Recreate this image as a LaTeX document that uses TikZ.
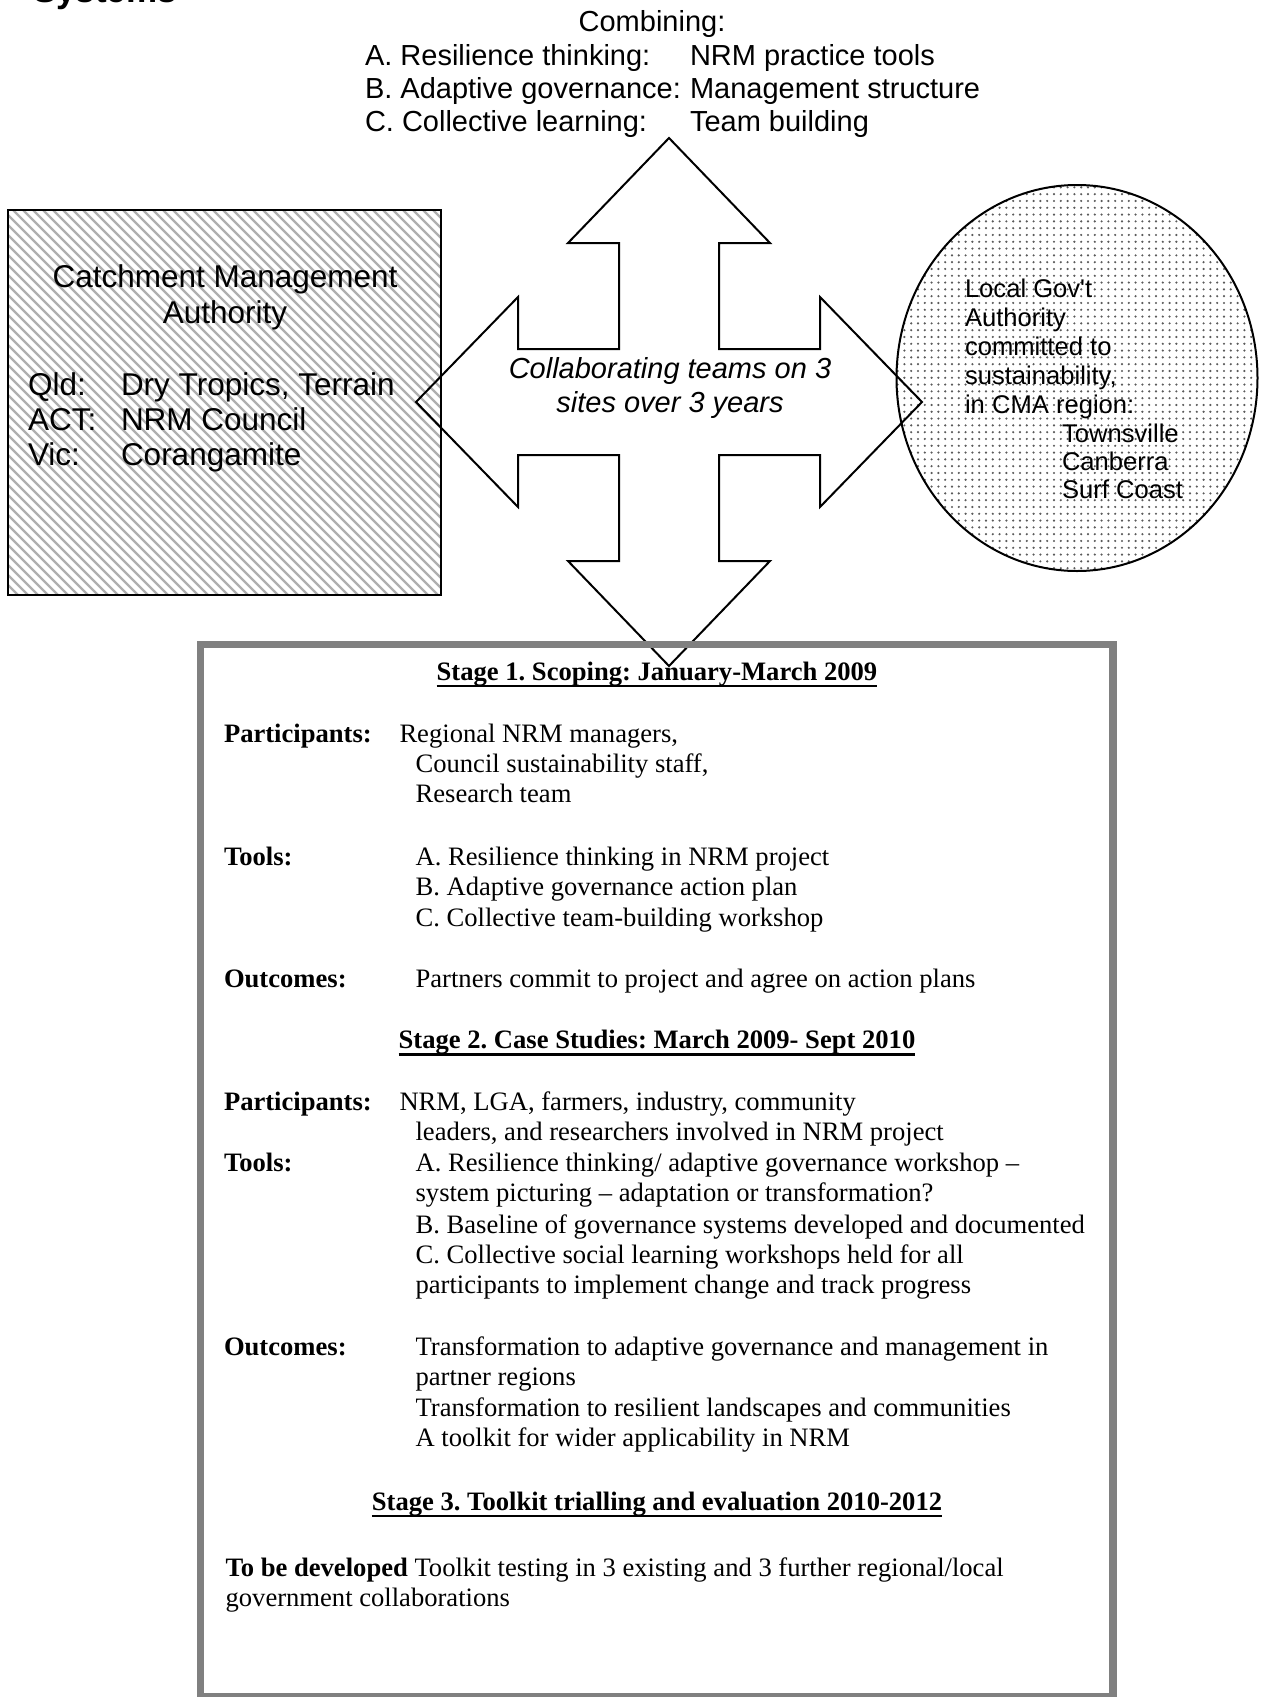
\documentclass[tikz,border=0pt]{standalone}
\usepackage{fontspec}
\setmainfont{Liberation Serif}
\newfontfamily\arialfont{Liberation Sans}
\usetikzlibrary{patterns.meta}
\frenchspacing

\definecolor{framegray}{RGB}{128,128,128}
\definecolor{hatchgray}{RGB}{175,175,175}
\definecolor{dotgray}{RGB}{90,90,90}

\begin{document}
\begin{tikzpicture}[
		x=0.5pt, y=-0.5pt,
		every node/.style={inner sep=0pt, outer sep=0pt},
		sans/.style={font=\arialfont\fontsize{14.5pt}{17pt}\selectfont},
		syshead/.style={font=\arialfont\bfseries\fontsize{17.5pt}{20pt}\selectfont},
		cma/.style={font=\arialfont\fontsize{15.75pt}{18pt}\selectfont},
		lga/.style={font=\arialfont\fontsize{12.8pt}{14.5pt}\selectfont, anchor=base west},
		collab/.style={font=\arialfont\itshape\fontsize{14.5pt}{17pt}\selectfont, anchor=base},
		body/.style={font=\fontsize{13.3pt}{15.2pt}\selectfont, anchor=base west},
		tag/.style={font=\bfseries\fontsize{13.3pt}{15.2pt}\selectfont, anchor=base west},
		stagehead/.style={font=\bfseries\fontsize{13.3pt}{15.2pt}\selectfont, anchor=base},
		uline/.style={line width=1.3pt},
		hatch/.style={hatchgray, line width=1.1pt},
		outline/.style={draw=black, line width=1pt},
		bigarrow/.style={draw=black, line width=1pt, line join=miter},
		stageframe/.style={draw=framegray, line width=3.75pt}
		]
		
		\useasboundingbox (0,0) rectangle (1264,1697);
		\clip (0,0) rectangle (1264,1697);
		
		% Page heading (cut off at the top)
		\node[syshead, anchor=base west] (sys) at (33,3) {Systems};
		
		% -------- Combining --------
		\node[sans, anchor=base] (comb) at (652,32) {Combining:};
		\node[sans, anchor=base west] (ca) at (365,65) {A. Resilience thinking:};
		\node[sans, anchor=base west] (cb) at (365,98.5) {B. Adaptive governance:};
		\node[sans, anchor=base west] (cc) at (365,131.5) {C. Collective learning:};
		\node[sans, anchor=base west] (ca2) at (690,65) {NRM practice tools};
		\node[sans, anchor=base west] (cb2) at (690,98.5) {Management structure};
		\node[sans, anchor=base west] (cc2) at (690,131.5) {Team building};
		
		% -------- Catchment Management Authority --------
		\begin{scope}
			\clip (8,210) rectangle (441,595);
			\foreach \k in {-400,-390,...,440}
				\draw[hatch] (8+\k,205) -- ++(400,400);
		\end{scope}
		\draw[outline] (8,210) rectangle (441,595);
		
		\node[cma, anchor=base] (cma1) at (225,287) {Catchment Management};
		\node[cma, anchor=base] (cma2) at (225,323) {Authority};
		\node[cma, anchor=base west] (qld) at (28,395) {Qld:};
		\node[cma, anchor=base west] (act) at (28,430.5) {ACT:};
		\node[cma, anchor=base west] (vic) at (28,465.5) {Vic:};
		\node[cma, anchor=base west] (qld2) at (121,395) {Dry Tropics, Terrain};
		\node[cma, anchor=base west] (act2) at (121,430.5) {NRM Council};
		\node[cma, anchor=base west] (vic2) at (121,465.5) {Corangamite};
		
		% -------- Local government --------
		\fill[white] (1077,378) ellipse [x radius=180.5, y radius=193];
		\fill[pattern={Dots[distance=3.4pt, radius=0.6pt]}, pattern color=dotgray]
			(1077,378) ellipse [x radius=180.5, y radius=193];
		\draw[outline] (1077,378) ellipse [x radius=180.5, y radius=193];
		
		\node[lga] (lg1) at (965,297) {Local Gov't};
		\node[lga] (lg2) at (965,326) {Authority};
		\node[lga] (lg3) at (965,355) {committed to};
		\node[lga] (lg4) at (965,384) {sustainability,};
		\node[lga] (lg5) at (965,413) {in CMA region:};
		\node[lga] (lg6) at (1062,442) {Townsville};
		\node[lga] (lg7) at (1062,470) {Canberra};
		\node[lga] (lg8) at (1062,498) {Surf Coast};
		
		% -------- Four-way arrow --------
		\draw[bigarrow] (669,138) -- (770,243) -- (719,243) -- (719,349)
			-- (820,349) -- (820,297) -- (922,402) -- (820,507) -- (820,455)
			-- (719,455) -- (719,561) -- (770,561) -- (669,666) -- (568,561)
			-- (619,561) -- (619,455) -- (518,455) -- (518,507) -- (416,402)
			-- (518,297) -- (518,349) -- (619,349) -- (619,243) -- (568,243) -- cycle;
		
		\node[collab] (tm1) at (670,378) {Collaborating teams on 3};
		\node[collab] (tm2) at (670,412) {sites over 3 years};
		
		% -------- Stages frame --------
		\draw[stageframe] (200.5,644.5) rectangle (1113,1697);
		
		% ---- Stage 1 ----
		\node[stagehead] (st1) at (657,680) {Stage 1. Scoping: January-March 2009};
		\draw[uline] ([yshift=-3pt]st1.base west) -- ([yshift=-3pt]st1.base east);
		
		\node[tag] (p1) at (224,742) {Participants:};
		\node[body] (p1a) at (399.5,742) {Regional NRM managers,};
		\node[body] (p1b) at (415.6,772.7) {Council sustainability staff,};
		\node[body] (p1c) at (415.6,802.7) {Research team};
		
		\node[tag] (t1) at (224,865) {Tools:};
		\node[body] (t1a) at (415.6,865) {A. Resilience thinking in NRM project};
		\node[body] (t1b) at (415.6,895.5) {B. Adaptive governance action plan};
		\node[body] (t1c) at (415.6,926.5) {C. Collective team-building workshop};
		
		\node[tag] (o1) at (224,987.3) {Outcomes:};
		\node[body] (o1a) at (415.6,987.3) {Partners commit to project and agree on action plans};
		
		% ---- Stage 2 ----
		\node[stagehead] (st2) at (657,1048.3) {Stage 2. Case Studies: March 2009- Sept 2010};
		\draw[uline] ([yshift=-3pt]st2.base west) -- ([yshift=-3pt]st2.base east);
		
		\node[tag] (p2) at (224,1110) {Participants:};
		\node[body] (p2a) at (399.5,1110) {NRM, LGA, farmers, industry, community};
		\node[body] (p2b) at (415.6,1140.7) {leaders, and researchers involved in NRM project};
		
		\node[tag] (t2) at (224,1171.7) {Tools:};
		\node[body] (t2a) at (415.6,1171.7) {A. Resilience thinking/ adaptive governance workshop --};
		\node[body] (t2b) at (415.6,1201.7) {system picturing -- adaptation or transformation?};
		\node[body] (t2c) at (415.6,1233.3) {B. Baseline of governance systems developed and documented};
		\node[body] (t2d) at (415.6,1263.3) {C. Collective social learning workshops held for all};
		\node[body] (t2e) at (415.6,1293.3) {participants to implement change and track progress};
		
		\node[tag] (o2) at (224,1355) {Outcomes:};
		\node[body] (o2a) at (415.6,1355) {Transformation to adaptive governance and management in};
		\node[body] (o2b) at (415.6,1385) {partner regions};
		\node[body] (o2c) at (415.6,1416.7) {Transformation to resilient landscapes and communities};
		\node[body] (o2d) at (415.6,1446.7) {A toolkit for wider applicability in NRM};
		
		% ---- Stage 3 ----
		\node[stagehead] (st3) at (657,1510) {Stage 3. Toolkit trialling and evaluation 2010-2012};
		\draw[uline] ([yshift=-3pt]st3.base west) -- ([yshift=-3pt]st3.base east);
		
		\node[body] (d3a) at (225.6,1576.7) {\textbf{To be developed} Toolkit testing in 3 existing and 3 further regional/local};
		\node[body] (d3b) at (225.6,1606.7) {government collaborations};
		
	\end{tikzpicture}
\end{document}
